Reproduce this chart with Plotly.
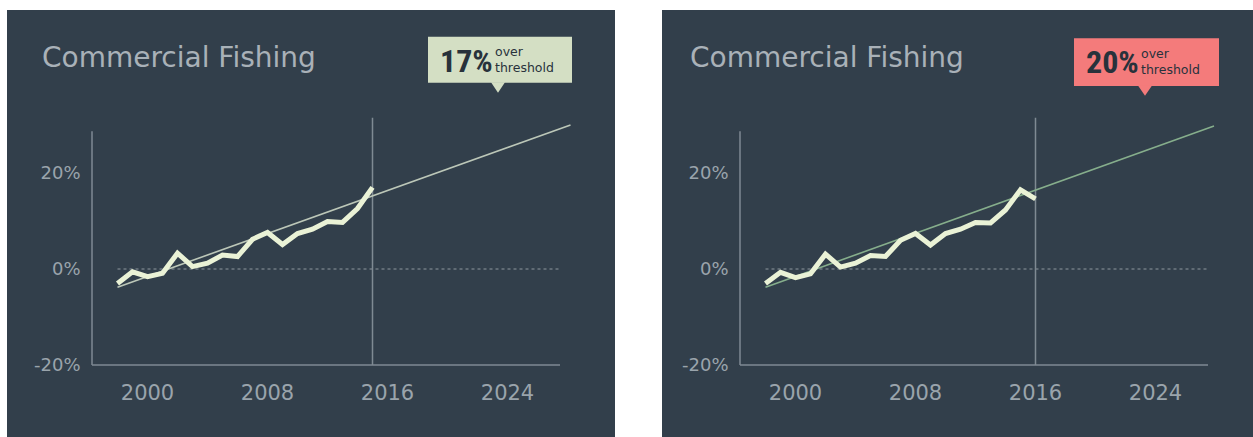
import plotly.graph_objects as go

# ---- data -------------------------------------------------------------
years_left = [1998, 1999, 2000, 2001, 2002, 2003, 2004, 2005, 2006,
              2007, 2008, 2009, 2010, 2011, 2012, 2013, 2014, 2015]
values_left = [-3.0, -0.6, -1.6, -0.9, 3.3, 0.5, 1.2, 2.9, 2.6,
               6.2, 7.6, 5.1, 7.4, 8.3, 9.9, 9.7, 12.6, 17.0]

years_right = [1998, 1999, 2000, 2001, 2002, 2003, 2004, 2005, 2006,
               2007, 2008, 2009, 2010, 2011, 2012, 2013, 2014, 2015, 2016]
values_right = [-3.0, -0.7, -1.8, -1.0, 3.1, 0.4, 1.2, 2.8, 2.6,
                6.0, 7.4, 5.0, 7.4, 8.3, 9.7, 9.6, 12.3, 16.5, 14.6]

trend_years_left = [1998, 2028.2]
trend_values_left = [-3.8, 30.0]
trend_years_right = [1998, 2027.9]
trend_values_right = [-3.8, 29.8]

x_ticks = [2000, 2008, 2016, 2024]
x_tick_text = ["2000", "2008", "2016", "2024"]
y_ticks = [-20, 0, 20]
y_tick_text = ["-20%", "0%", "20%"]

title_text = "Commercial Fishing"
badge_pct = ["17%", "20%"]
badge_note = "over<br>threshold"

# ---- styling ----------------------------------------------------------
W, H = 1253, 437
PANEL = "#323f4b"
AXIS = "#7f8a93"
LINE = "#eaf2d6"
TXT = "#9aa4ac"
TITLE = "#a9b1b8"
BADGE = ["#d4dfc4", "#f47b7b"]
BADGE_TXT = "#28323b"
TREND = ["#bcc7b8", "#86ae8c"]
FONT = "DejaVu Sans"

X_RANGE = [1996, 2030]
Y_RANGE = [-22, 35]
AXIS_X0 = 1996.3      # where the vertical axis sits
AXIS_X1 = 2027.5      # right end of the horizontal axis / zero line
AXIS_TOP = 28.7       # top of the vertical axis
MARK_TOP = 31.5       # top of the "latest year" marker
ZERO_X0 = 1998


def px(x):
    return x / W


def py(y):
    return 1 - y / H


fig = go.Figure()
shapes = []
annotations = []

panels = [
    dict(rect=(7, 615), dom=(87.5, 597.5), years=years_left, vals=values_left,
         ty=trend_years_left, tv=trend_values_left, title_x=40,
         badge=(428, 572, 36.7, 82.7, 498, 92.7), pct_x=438, sub_x=493,
         pct_y=60.5, sub_y=59.5),
    dict(rect=(662, 1253), dom=(735.5, 1245.5), years=years_right, vals=values_right,
         ty=trend_years_right, tv=trend_values_right, title_x=688,
         badge=(1074, 1219, 38.3, 86, 1145, 95.7), pct_x=1084, sub_x=1139,
         pct_y=62, sub_y=62),
]

y_dom = [py(269 + 4.8 * 22), py(269 - 4.8 * 35)]

for i, p in enumerate(panels):
    xa = "x" if i == 0 else "x2"
    ya = "y" if i == 0 else "y2"
    xname = "xaxis" if i == 0 else "xaxis2"
    yname = "yaxis" if i == 0 else "yaxis2"

    # dark card behind each chart
    shapes.append(dict(type="rect", xref="paper", yref="paper",
                       x0=px(p["rect"][0]), x1=px(p["rect"][1]),
                       y0=py(437), y1=py(10), fillcolor=PANEL,
                       line=dict(width=0), layer="below"))

    # axis frame, zero reference and latest-year marker
    shapes += [
        dict(type="line", xref=xa, yref=ya, x0=AXIS_X0, x1=AXIS_X0,
             y0=Y_RANGE[0] + 2, y1=AXIS_TOP, line=dict(color=AXIS, width=1.5),
             layer="below"),
        dict(type="line", xref=xa, yref=ya, x0=AXIS_X0, x1=AXIS_X1,
             y0=-20, y1=-20, line=dict(color=AXIS, width=1.5), layer="below"),
        dict(type="line", xref=xa, yref=ya, x0=ZERO_X0, x1=AXIS_X1,
             y0=0, y1=0, line=dict(color="#8e989f", width=1, dash="dot"),
             layer="below"),
        dict(type="line", xref=xa, yref=ya, x0=p["years"][-1], x1=p["years"][-1],
             y0=-20, y1=MARK_TOP, line=dict(color=AXIS, width=1.5),
             layer="below"),
    ]

    fig.add_trace(go.Scatter(x=p["ty"], y=p["tv"], mode="lines",
                             line=dict(color=TREND[i], width=1.6),
                             xaxis=xa, yaxis=ya, hoverinfo="skip",
                             showlegend=False, cliponaxis=False))
    fig.add_trace(go.Scatter(x=p["years"], y=p["vals"], mode="lines",
                             line=dict(color=LINE, width=5),
                             xaxis=xa, yaxis=ya, showlegend=False,
                             cliponaxis=False))

    fig.layout[xname] = dict(
        domain=[px(p["dom"][0]), px(p["dom"][1])], range=X_RANGE,
        anchor=ya, showgrid=False, zeroline=False, showline=False,
        tickmode="array", tickvals=x_ticks, ticktext=x_tick_text,
        ticks="", ticklabelstandoff=3,
        tickfont=dict(family=FONT, size=21, color=TXT), fixedrange=True)
    fig.layout[yname] = dict(
        domain=y_dom, range=Y_RANGE, anchor=xa, showgrid=False,
        zeroline=False, showline=False, tickmode="array",
        tickvals=y_ticks, ticktext=y_tick_text, ticks="",
        ticklabelstandoff=6,
        tickfont=dict(family=FONT, size=18, color=TXT), fixedrange=True)

    # title
    annotations.append(dict(text=title_text, xref="paper", yref="paper",
                            x=px(p["title_x"]), y=py(57.5), xanchor="left",
                            yanchor="middle", showarrow=False,
                            font=dict(family=FONT, size=28, color=TITLE)))

    # threshold badge with a small pointer
    bx0, bx1, by0, by1, tx, ty = p["badge"]
    shapes.append(dict(type="rect", xref="paper", yref="paper",
                       x0=px(bx0), x1=px(bx1), y0=py(by1), y1=py(by0),
                       fillcolor=BADGE[i], line=dict(width=0)))
    shapes.append(dict(type="path", xref="paper", yref="paper",
                       path=f"M {px(tx - 7)} {py(by1 - 0.5)} L {px(tx + 7)} {py(by1 - 0.5)} "
                            f"L {px(tx)} {py(ty)} Z",
                       fillcolor=BADGE[i], line=dict(width=0)))
    annotations += [
        dict(text=f"<b>{badge_pct[i]}</b>", xref="paper", yref="paper",
             x=px(p["pct_x"]), y=py(p["pct_y"]), xanchor="left",
             yanchor="middle", showarrow=False,
             font=dict(family="Liberation Sans Narrow, Roboto Condensed, Roboto",
                       size=32, color=BADGE_TXT)),
        dict(text=badge_note, xref="paper", yref="paper",
             x=px(p["sub_x"]), y=py(p["sub_y"]), xanchor="left",
             yanchor="middle", align="left", showarrow=False,
             font=dict(family=FONT, size=12.5, color=BADGE_TXT)),
    ]

fig.update_layout(
    width=W, height=H, autosize=False,
    margin=dict(l=0, r=0, t=0, b=0),
    paper_bgcolor="white", plot_bgcolor="rgba(0,0,0,0)",
    shapes=shapes, annotations=annotations, showlegend=False,
    hovermode=False,
)

fig.write_html("out.html", config={"displayModeBar": False})
